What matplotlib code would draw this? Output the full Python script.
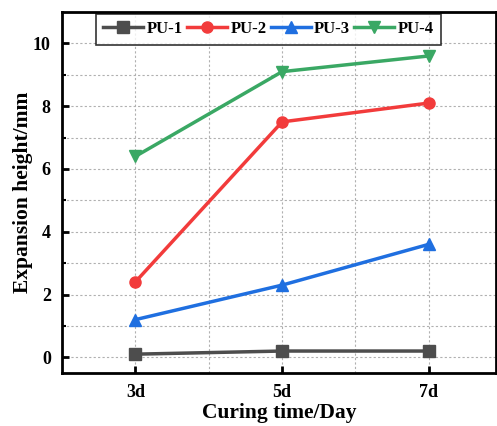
import numpy as np
import matplotlib
import matplotlib.pyplot as plt
matplotlib.use('Agg')

days = ['3d', '5d', '7d']
x_pos = [3, 5, 7]
pu1 = [0.1, 0.2, 0.2]
pu2 = [2.4, 7.5, 8.1]
pu3 = [1.2, 2.3, 3.6]
pu4 = [6.4, 9.1, 9.6]

plt.rcParams['font.family'] = 'Liberation Serif'
plt.rcParams['font.weight'] = 'bold'

fig = plt.figure(figsize=(4.97, 4.26), dpi=100)
ax = fig.add_axes([0.1247, 0.1244, 0.874, 0.8474])

ax.plot(x_pos, pu1, color='#4d4d4d', marker='s', lw=2.5, ms=8, label='PU-1')
ax.plot(x_pos, pu2, color='#f23b3b', marker='o', lw=2.5, ms=8, label='PU-2')
ax.plot(x_pos, pu3, color='#1f6fe0', marker='^', lw=2.5, ms=8, label='PU-3')
ax.plot(x_pos, pu4, color='#3aa864', marker='v', lw=2.5, ms=8, label='PU-4')

ax.set_xlim(2, 7.92)
ax.set_ylim(-0.5, 11)
ax.set_xticks(x_pos)
ax.set_xticklabels(days)
ax.set_xticks([4, 6], minor=True)
ax.set_yticks([0, 2, 4, 6, 8, 10])
ax.set_yticks([1, 3, 5, 7, 9], minor=True)
ax.grid(True, which='both', ls=(0, (2, 2)), color='#b0b0b0', lw=0.8)

for s in ax.spines.values():
    s.set_linewidth(2)
ax.tick_params(axis='both', which='major', labelsize=13, width=2, length=5,
               direction='in', pad=8)
ax.tick_params(axis='both', which='minor', width=1.5, length=3, direction='in')
ax.tick_params(axis='x', which='minor', length=0)
for lab in ax.get_xticklabels() + ax.get_yticklabels():
    lab.set_fontweight('bold')

ax.set_xlabel('Curing time/Day', fontsize=15.5, fontweight='bold', labelpad=1)
ax.set_ylabel('Expansion height/mm', fontsize=15.5, fontweight='bold', labelpad=0)

leg = ax.legend(loc='upper left', bbox_to_anchor=(0.078, 0.995), ncol=4, fontsize=12,
                frameon=True, fancybox=False, edgecolor='black', handlelength=2.4,
                handletextpad=0.2, columnspacing=0.25, borderpad=0.45, borderaxespad=0.0)
leg.get_frame().set_linewidth(1.2)
for t in leg.get_texts():
    t.set_fontweight('bold')

fig.savefig('out.png', dpi=100)
